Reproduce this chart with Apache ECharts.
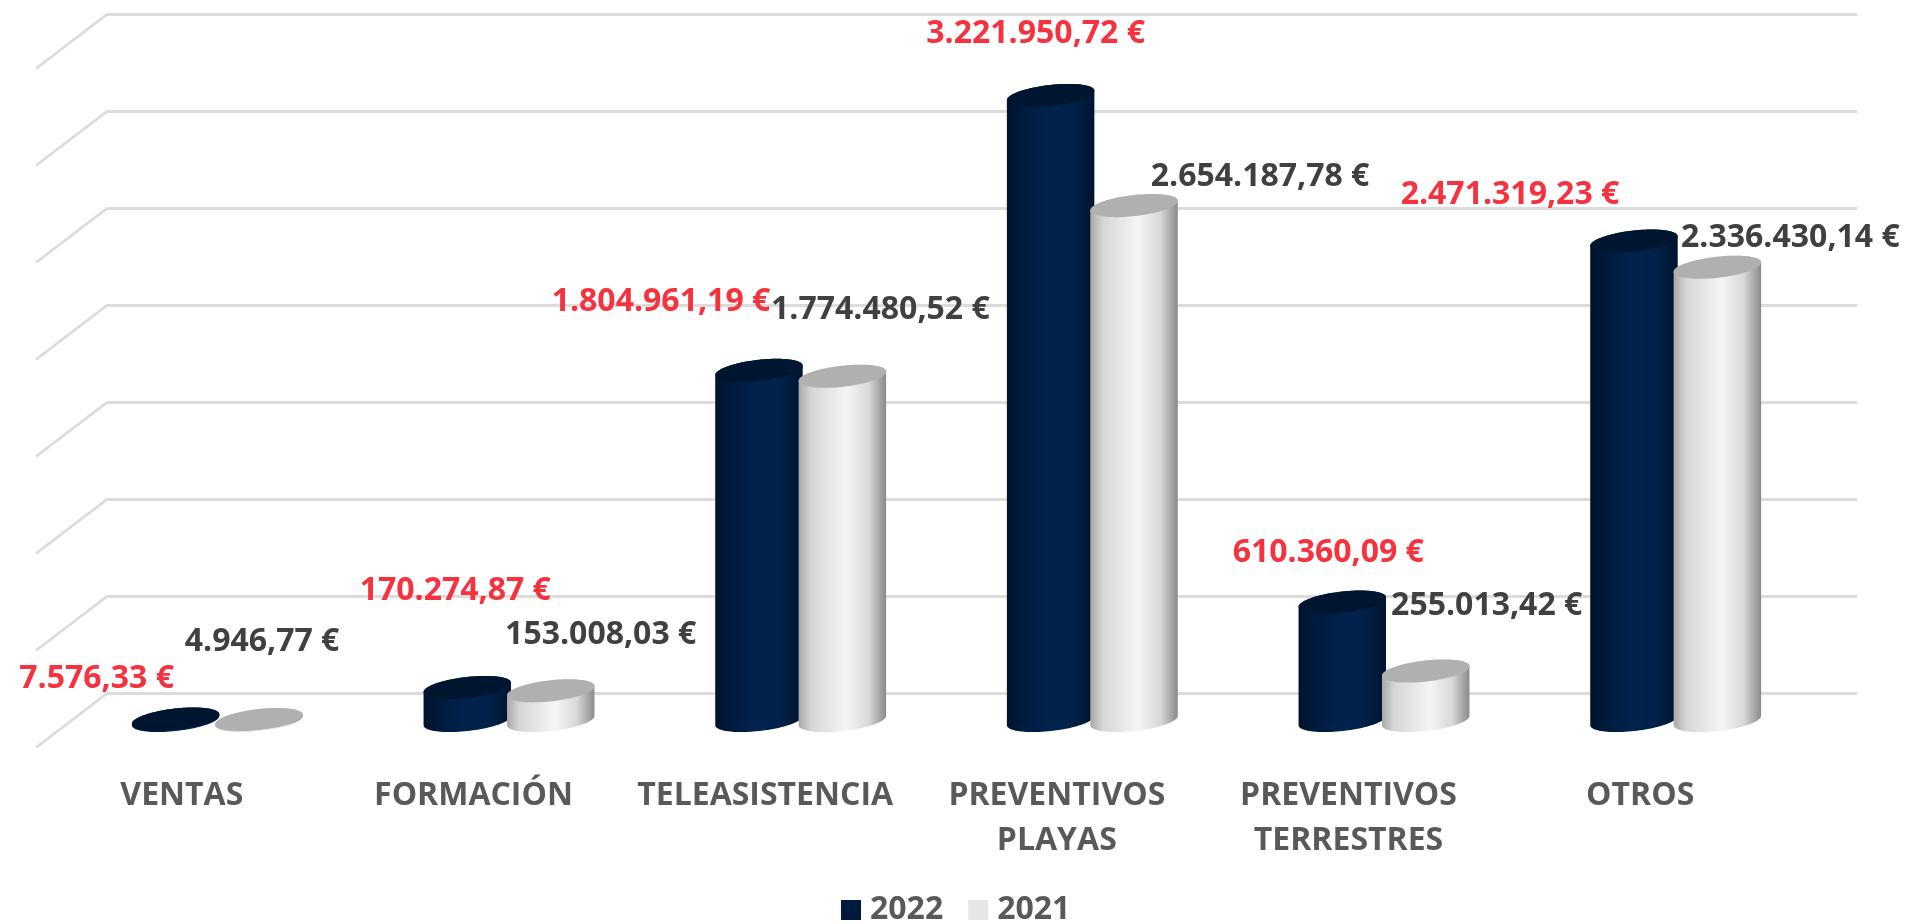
<!DOCTYPE html>
<html>
<head>
<meta charset="utf-8">
<style>html,body{margin:0;padding:0;background:#fff}#c{width:1905px;height:924px}</style>
<script src="https://cdn.jsdelivr.net/npm/echarts@6/dist/echarts.min.js"></script>
</head>
<body>
<div id="c"></div>
<script>
const categories = ['VENTAS','FORMACIÓN','TELEASISTENCIA','PREVENTIVOS\nPLAYAS','PREVENTIVOS\nTERRESTRES','OTROS'];
const values2022 = [7576.33,170274.87,1804961.19,3221950.72,610360.09,2471319.23];
const values2021 = [4946.77,153008.03,1774480.52,2654187.78,255013.42,2336430.14];
const labels2022 = ['7.576,33 €','170.274,87 €','1.804.961,19 €','3.221.950,72 €','610.360,09 €','2.471.319,23 €'];
const labels2021 = ['4.946,77 €','153.008,03 €','1.774.480,52 €','2.654.187,78 €','255.013,42 €','2.336.430,14 €'];
const ticks = [0,500000,1000000,1500000,2000000,2500000,3000000,3500000];

// label placement relative to the top of each bar
const labelShift2022 = [[-79,-40],[-12,-97],[-98,-68],[-15,-62],[-14,-49],[-124,-46]];
const labelShift2021 = [[3,-78],[50,-56],[38,-66],[126,-29],[61,-65],[73,-29]];

const FONT = '"Open Sans", sans-serif';
const DEPTH_X = 71, DEPTH_Y = 54;     // floor depth
const A = 44, B = 10.5, PHI = -6.5 * Math.PI / 180;

function ellipse(cx, cy, from, to, n) {
  const pts = [];
  for (let i = 0; i <= n; i++) {
    const t = from + (to - from) * i / n;
    const ca = Math.cos(t), sa = Math.sin(t);
    pts.push([cx + A * ca * Math.cos(PHI) - B * sa * Math.sin(PHI),
              cy + A * ca * Math.sin(PHI) + B * sa * Math.cos(PHI)]);
  }
  return pts;
}

function cylinderSeries(name, values, labels, shifts, look, side) {
  return {
    name, type: 'custom', z: 3, animation: false, silent: true,
    itemStyle: { color: look.legend },
    encode: { x: 0, y: 1 },
    data: values.map((v, i) => [i, v]),
    renderItem(params, api) {
      const i = api.value(0), v = api.value(1);
      const band = api.size([1, 0])[0];
      const front = api.coord([i, 0]), top = api.coord([i, v]);
      const cx = front[0] + DEPTH_X / 2 + side * band * 0.143;
      const yBase = front[1] - DEPTH_Y / 2, yTop = top[1] - DEPTH_Y / 2;
      const t0 = Math.atan(-B * Math.sin(PHI) / (A * Math.cos(PHI)));
      const body = ellipse(cx, yBase, t0, t0 + Math.PI, 48)
        .concat(ellipse(cx, yTop, t0 + Math.PI, t0 + 2 * Math.PI, 48));
      const cap = ellipse(cx, yTop, 0, 2 * Math.PI, 96);
      const s = shifts[i];
      return {
        type: 'group',
        children: [
          { type: 'polygon', shape: { points: body },
            style: { fill: new echarts.graphic.LinearGradient(0, 0, 1, 0, look.body) } },
          { type: 'polygon', shape: { points: cap }, style: { fill: look.cap } },
          { type: 'text', z2: 50,
            style: { x: cx + s[0], y: yTop + s[1], text: labels[i], fill: look.text,
              font: 'bold 32px ' + FONT, align: 'center', verticalAlign: 'middle' } }
        ]
      };
    }
  };
}

const navy = {
  legend: '#001a3f', cap: '#00152f', text: '#f6323f',
  body: [{offset:0,color:'#00132c'},{offset:0.2,color:'#001b3e'},{offset:0.5,color:'#00234d'},
         {offset:0.75,color:'#002148'},{offset:1,color:'#00142e'}]
};
const light = {
  legend: '#e6e6e6', cap: '#b0b0b0', text: '#404040',
  body: [{offset:0,color:'#a8a8a8'},{offset:0.14,color:'#d6d6d6'},{offset:0.55,color:'#f5f5f5'},
         {offset:0.8,color:'#d8d8d8'},{offset:1,color:'#8a8a8a'}]
};

const chart = echarts.init(document.getElementById('c'), null, { renderer: 'canvas' });
chart.setOption({
  backgroundColor: '#ffffff',
  animation: false,
  grid: { left: 36, top: 68.5, width: 1750, height: 679, containLabel: false },
  legend: {
    data: ['2022', '2021'], left: 836, top: 889,
    icon: 'rect', itemWidth: 20, itemHeight: 20, itemGap: 25,
    textStyle: { color: '#595959', fontFamily: FONT, fontWeight: 'bold', fontSize: 32, padding: [0, 0, 0, 4] }
  },
  xAxis: {
    type: 'category', data: categories,
    axisLine: { show: false }, axisTick: { show: false }, splitLine: { show: false },
    axisLabel: { interval: 0, margin: 26, color: '#595959', fontFamily: FONT, fontWeight: 'bold', fontSize: 32, lineHeight: 45 }
  },
  yAxis: { type: 'value', min: 0, max: 3500000, interval: 500000, show: false },
  series: [
    {
      type: 'custom', z: 1, animation: false, silent: true, legendHoverLink: false,
      encode: { x: 0, y: 1 },
      data: ticks.map(v => [0, v]),
      renderItem(params, api) {
        const y = api.coord([0, api.value(1)])[1];
        const r = params.coordSys;
        return {
          type: 'polyline',
          shape: { points: [[r.x, y], [r.x + DEPTH_X, y - DEPTH_Y], [r.x + DEPTH_X + r.width, y - DEPTH_Y]] },
          style: { stroke: '#dcdcdc', lineWidth: 2.8, fill: null }
        };
      }
    },
    cylinderSeries('2022', values2022, labels2022, labelShift2022, navy, -1),
    cylinderSeries('2021', values2021, labels2021, labelShift2021, light, 1)
  ]
});
</script>
</body>
</html>
